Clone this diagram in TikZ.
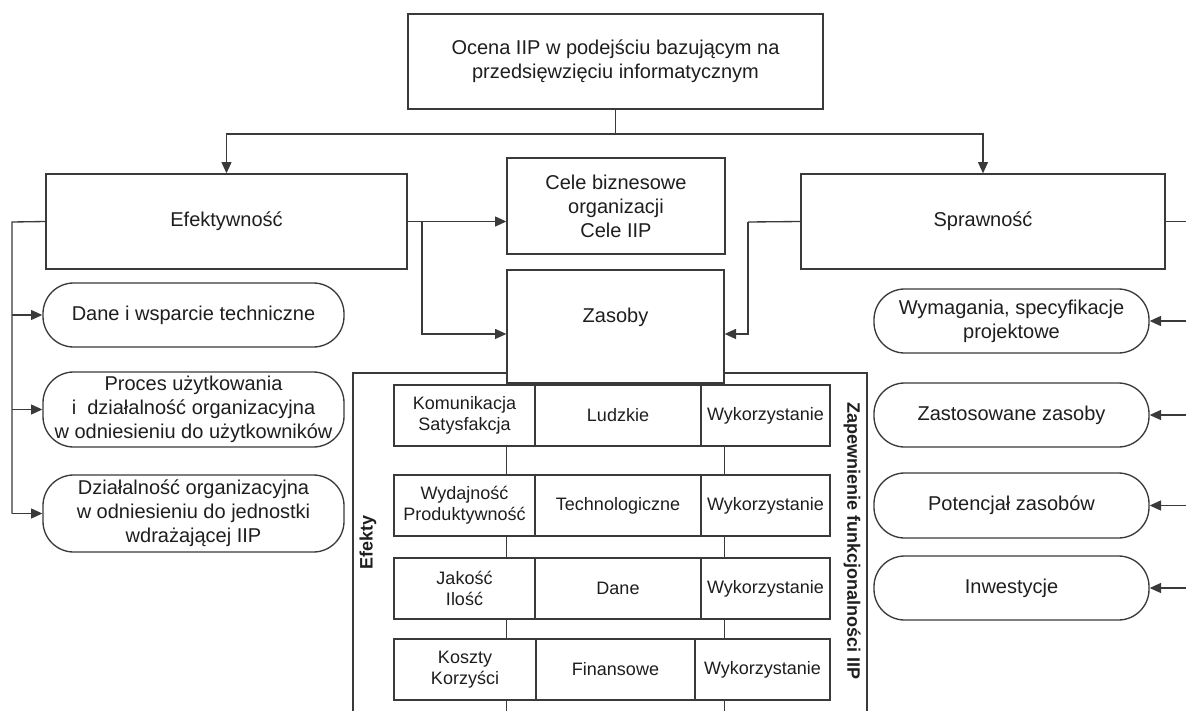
\documentclass[tikz,border=0pt]{standalone}
\usepackage{fontspec}
\setmainfont{Liberation Sans}
\usetikzlibrary{arrows.meta}
\definecolor{linec}{HTML}{3A3A3A}
\definecolor{textc}{HTML}{1E1E1E}
\tikzset{
  rect/.style n args={4}{minimum width={(#3-#1)*0.75pt}, minimum height={(#4-#2)*0.75pt},
    at={({(#1+#3)/2},{(#2+#4)/2})}},
  box/.style={draw=linec, line width=1pt, fill=white, inner sep=0pt, align=center,
    text=textc, font=\fontsize{15}{18}\selectfont},
  pill/.style={box, rounded corners=23pt},
  cell/.style={draw=linec, line width=1pt, fill=white, inner sep=0pt, align=center,
    text=textc, font=\fontsize{13.5}{16}\selectfont},
  lbl/.style={text=textc, inner sep=0pt, font=\bfseries\fontsize{13.5}{16}\selectfont},
  conn/.style={draw=linec, line width=1pt},
  arr/.style={conn, -{Triangle[length=8.5pt,width=7.5pt]}}
}
\begin{document}
\begin{tikzpicture}[x=0.75pt,y=-0.75pt]
\useasboundingbox (0,0) rectangle (1186,711);
\coordinate (bot) at (0,711);
\coordinate (redge) at (1186,0);

% top level
\node[box, rect={408}{14}{823}{109}] (top) {Ocena IIP w podejściu bazującym na\\przedsięwzięciu informatycznym};
\node[box, rect={46}{174}{407}{269}] (efek) {Efektywność};
\node[box, rect={507}{158}{725}{254}] (cele) {Cele biznesowe\\organizacji\\Cele IIP};
\node[box, rect={801}{174}{1165}{269}] (spraw) {Sprawność};

% Zasoby column
\node[box, fill=none, rect={507}{270}{724}{383}] (zas) {};
\node[text=textc, font=\fontsize{15}{18}\selectfont, inner sep=0pt] (zast) at (615.5,317) {Zasoby};
\draw[conn] (zas.south west) -- (zas.south west |- bot);
\draw[conn] (zas.south east) -- (zas.south east |- bot);

% outer frame
\coordinate (fl) at (353,373);
\coordinate (fr) at (867,373);
\draw[conn] (zas.west |- fl) -- (fl) -- (fl |- bot);
\draw[conn] (zas.east |- fr) -- (fr) -- (fr |- bot);

% rows
\node[cell, rect={394}{385}{535}{446}] (r1a) {Komunikacja\\Satysfakcja};
\node[cell, rect={535}{385}{701}{446}] (r1b) {Ludzkie};
\node[cell, rect={701}{385}{830}{446}] (r1c) {Wykorzystanie};
\node[cell, rect={394}{475}{535}{536}] (r2a) {Wydajność\\Produktywność};
\node[cell, rect={535}{475}{701}{536}] (r2b) {Technologiczne};
\node[cell, rect={701}{475}{830}{536}] (r2c) {Wykorzystanie};
\node[cell, rect={394}{558}{535}{619}] (r3a) {Jakość\\Ilość};
\node[cell, rect={535}{558}{701}{619}] (r3b) {Dane};
\node[cell, rect={701}{558}{830}{619}] (r3c) {Wykorzystanie};
\node[cell, rect={394}{639}{536}{700}] (r4a) {Koszty\\Korzyści};
\node[cell, rect={536}{639}{695}{700}] (r4b) {Finansowe};
\node[cell, rect={695}{639}{830}{700}] (r4c) {Wykorzystanie};

\node[lbl, rotate=90] (efekty) at (368,542) {Efekty};
\node[lbl, rotate=-90] (zapew) at (852,541) {Zapewnienie funkcjonalności IIP};

% left pills
\node[pill, rect={43}{283}{344}{347}] (d1) {Dane i wsparcie techniczne};
\node[pill, rect={43}{372}{344}{447}] (d2) {Proces użytkowania\\i\ \ działalność organizacyjna\\w odniesieniu do użytkowników};
\node[pill, rect={43}{475}{344}{552}] (d3) {Działalność organizacyjna\\w odniesieniu do jednostki\\wdrażającej IIP};

% right pills
\node[pill, rect={874}{289}{1149}{353}] (s1) {Wymagania, specyfikacje\\projektowe};
\node[pill, rect={874}{383}{1149}{447}] (s2) {Zastosowane zasoby};
\node[pill, rect={874}{473}{1149}{538}] (s3) {Potencjał zasobów};
\node[pill, rect={874}{556}{1149}{620}] (s4) {Inwestycje};

% connectors from top
\coordinate (tj) at (615.5,134);
\draw[conn] (top.south) -- (tj);
\draw[arr] (tj) -| (efek.north);
\draw[arr] (tj) -| (spraw.north);

% Efektywnosc connectors
\draw[arr] (efek.east) -- (efek.east -| cele.west);
\coordinate (ej) at (422,222);
\draw[arr] (ej) |- ([yshift=-5.6pt]zas.west);
\coordinate (lb) at (12,222);
\draw[conn] (efek.west) -- (lb) -- (lb |- d3.west);
\draw[arr] (lb |- d1.west) -- (d1.west);
\draw[arr] (lb |- d2.west) -- (d2.west);
\draw[arr] (lb |- d3.west) -- (d3.west);

% Sprawnosc connectors
\coordinate (sj) at (748,222);
\draw[conn] (spraw.west) -- (sj);
\draw[arr] (sj) |- ([yshift=-5.6pt]zas.east);
\draw[conn] (spraw.east) -- (spraw.east -| redge);
\draw[arr] (s1.east -| redge) -- (s1.east);
\draw[arr] (s2.east -| redge) -- (s2.east);
\draw[arr] (s3.east -| redge) -- (s3.east);
\draw[arr] (s4.east -| redge) -- (s4.east);
\end{tikzpicture}
\end{document}
